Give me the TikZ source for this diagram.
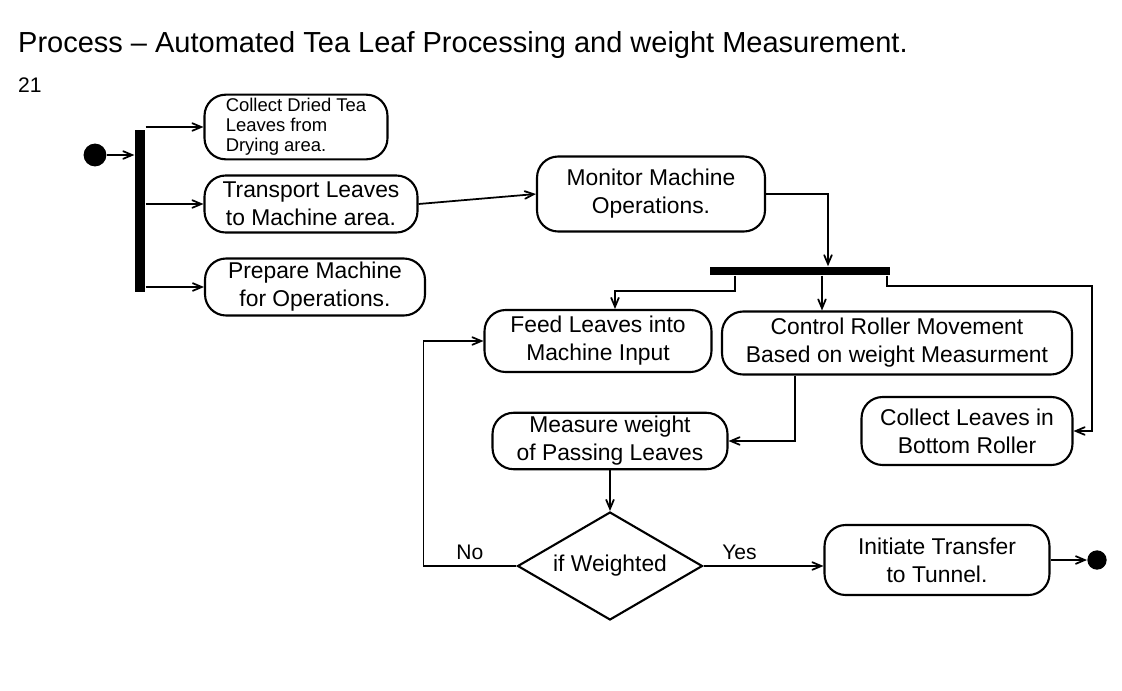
\documentclass[tikz,border=0pt]{standalone}
\usepackage{fontspec}
\setmainfont{Liberation Sans}
\usepackage{tikz}
\usetikzlibrary{calc}
\usetikzlibrary{shapes,arrows,positioning}
\tikzstyle{activity} = [rectangle, rounded corners=12pt, align=center, draw=black, line width=1.2pt, font=\fontsize{13}{16}\selectfont, inner sep=2pt]
\tikzstyle{decision} = [diamond, aspect=1.8, draw=black, line width=1.2pt, font=\fontsize{13}{16}\selectfont, inner sep=0pt]
\tikzstyle{bar} = [rectangle, fill=black, draw=none, inner sep=0pt]
\tikzstyle{dot} = [circle, fill=black, draw=none, inner sep=0pt, minimum size=13pt]
\tikzstyle{flow} = [->, >=angle 45, line width=1pt]

\begin{document}
\begin{tikzpicture}[x=0.02cm, y=-0.02cm]
    \useasboundingbox (0,0) rectangle (1122,690);

    \node(title)[anchor=west, font=\fontsize{16.5}{19}\selectfont] at (12,45){Process -- Automated Tea Leaf Processing and weight Measurement.};
    \node(num)[anchor=west, font=\fontsize{12}{14}\selectfont] at (12,85){21};

    \node(start)[dot] at (95,155){};
    \node(forkbar)[bar, minimum width=6pt, minimum height=3.26cm] at (140,211){};

    \node(collect1)[activity, align=left, minimum width=3.66cm, minimum height=1.1cm, font=\fontsize{10.5}{11.5}\selectfont] at (296,127){Collect Dried Tea\\Leaves from\\Drying area.};
    \node(transport)[activity, minimum width=4.26cm, minimum height=1.14cm] at (311,204){Transport Leaves\\to Machine area.};
    \node(prepare)[activity, minimum width=4.4cm, minimum height=1.14cm] at (315,287){Prepare Machine\\for Operations.};

    \node(monitor)[activity, minimum width=4.56cm, minimum height=1.5cm] at (651,194){Monitor Machine\\Operations.};
    \node(joinbar)[bar, minimum width=3.6cm, minimum height=5pt] at (800,271){};

    \node(feed)[activity, minimum width=4.54cm, minimum height=1.24cm] at (598,341){Feed Leaves into\\Machine Input};
    \node(control)[activity, minimum width=7cm, minimum height=1.26cm] at (897,343){Control Roller Movement\\Based on weight Measurment};
    \node(measure)[activity, minimum width=4.7cm, minimum height=0.94cm] at (610,441){Measure weight\\of Passing Leaves};
    \node(collect2)[activity, minimum width=4.22cm, minimum height=1.36cm] at (967,431){Collect Leaves in\\Bottom Roller};

    \node(weighted)[decision, minimum width=3.7cm, minimum height=2.16cm] at (610,566){if Weighted};
    \node(transfer)[activity, minimum width=4.5cm, minimum height=1.4cm] at (937,560){Initiate Transfer\\to Tunnel.};
    \node(end)[dot, minimum size=11pt] at (1097,560){};

    \draw[flow] (start) -- (forkbar.west |- start);
    \draw[flow] (forkbar.east |- collect1) -- (collect1.west);
    \draw[flow] (forkbar.east |- transport) -- (transport.west);
    \draw[flow] (forkbar.east |- prepare) -- (prepare.west);
    \draw[flow] (transport.east) -- (monitor.west);
    \draw[flow] (monitor.east) -| ([xshift=0.56cm]joinbar.north);

    \draw[flow] ([xshift=-1.3cm]joinbar.south) -- ++(0,15) -| ([xshift=0.34cm]feed.north);
    \draw[flow] ([xshift=0.44cm]joinbar.south) -- ([xshift=0.44cm]joinbar.south |- control.north);
    \draw[flow] ([xshift=-2pt]joinbar.south east) |- ++(205,10) |- (collect2.east);

    \draw[flow] ([xshift=-2.04cm]control.south) |- (measure.east);
    \draw[flow] (measure.south) -- (weighted.north);
    \draw[flow] (weighted.west) -- node[above, font=\fontsize{12}{14}\selectfont]{No} ++(-93,0) |- (feed.west);
    \draw[flow] (weighted.east) -- node[above, pos=0.3, font=\fontsize{12}{14}\selectfont]{Yes} (transfer.west |- weighted.east);
    \draw[flow] (transfer.east) -- (end);

\end{tikzpicture}
\end{document}
